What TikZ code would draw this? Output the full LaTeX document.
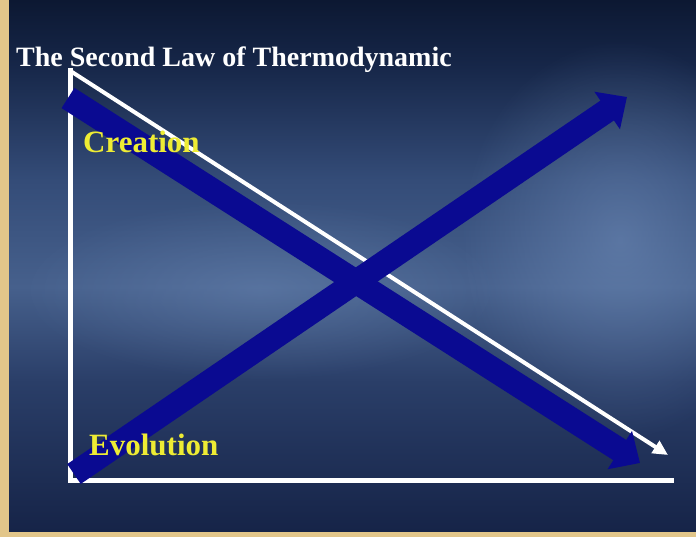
\documentclass[tikz,border=0pt]{standalone}
\usepackage{fontspec}
\setmainfont{Liberation Serif}
\usepackage{tikz}
\usetikzlibrary{arrows.meta,fadings}

\definecolor{frametan}{RGB}{226,198,138}
\definecolor{bigarrow}{RGB}{10,10,145}
\definecolor{labelyellow}{RGB}{238,236,52}
\definecolor{seatop}{RGB}{12,24,50}
\definecolor{seahigh}{RGB}{22,38,72}
\definecolor{seamid}{RGB}{52,76,120}
\definecolor{sealight}{RGB}{70,96,140}
\definecolor{sealow}{RGB}{42,62,104}
\definecolor{seabot}{RGB}{22,36,72}
\definecolor{foam}{RGB}{120,150,195}

\pgfdeclareverticalshading{deepsea}{100bp}{%
  color(0bp)=(seabot); color(25bp)=(seabot); color(39bp)=(sealow);
  color(48bp)=(sealight); color(58bp)=(seamid); color(69bp)=(seahigh);
  color(75bp)=(seatop); color(100bp)=(seatop)}
\tikzfading[name=softspot, inner color=transparent!30, outer color=transparent!100]

\begin{document}
\begin{tikzpicture}[x=1pt,y=-1pt,
  axis/.style={draw=white, line width=5pt},
  slope/.style={draw=white, line width=4pt, -{Triangle[length=15pt,width=14pt]}},
  trend/.style={draw=bigarrow, line width=24pt, -{Triangle[length=24pt,width=44pt]}},
  trendlabel/.style={text=labelyellow, font=\fontsize{31}{33}\selectfont\bfseries,
    anchor=base west, inner sep=0pt},
  heading/.style={text=white, font=\fontsize{28}{30}\selectfont\bfseries,
    anchor=base west, inner sep=0pt}
]
\useasboundingbox (0,0) rectangle (696,537);
% frame and background
\fill[frametan] (0,0) rectangle (696,537);
\shade[shading=deepsea] (9,0) rectangle (696,531);
\fill[foam, opacity=0.7, path fading=softspot] (620,240) ellipse (160 and 200);
\fill[foam, opacity=0.5, path fading=softspot] (260,290) ellipse (240 and 90);

% axes
\coordinate (top) at (70,68);
\coordinate (origin) at (70,480);
\coordinate (xend) at (674,480);
\draw[axis] (top) -- (origin) -- (xend);

% entropy slope
\coordinate (s0) at (72,72);
\coordinate (s1) at (668,455);
\draw[slope] (s0) -- (s1);

% the two trends
\coordinate (c0) at (68,98);
\coordinate (c1) at (640,463);
\coordinate (e0) at (74,474);
\coordinate (e1) at (627,97);
\draw[trend] (e0) -- (e1);
\draw[trend] (c0) -- (c1);

\node[heading] (law) at (16,67) {The Second Law of Thermodynamic};
\node[trendlabel] (creation) at (83,153) {Creation};
\node[trendlabel] (evolution) at (89,455) {Evolution};
\end{tikzpicture}
\end{document}
